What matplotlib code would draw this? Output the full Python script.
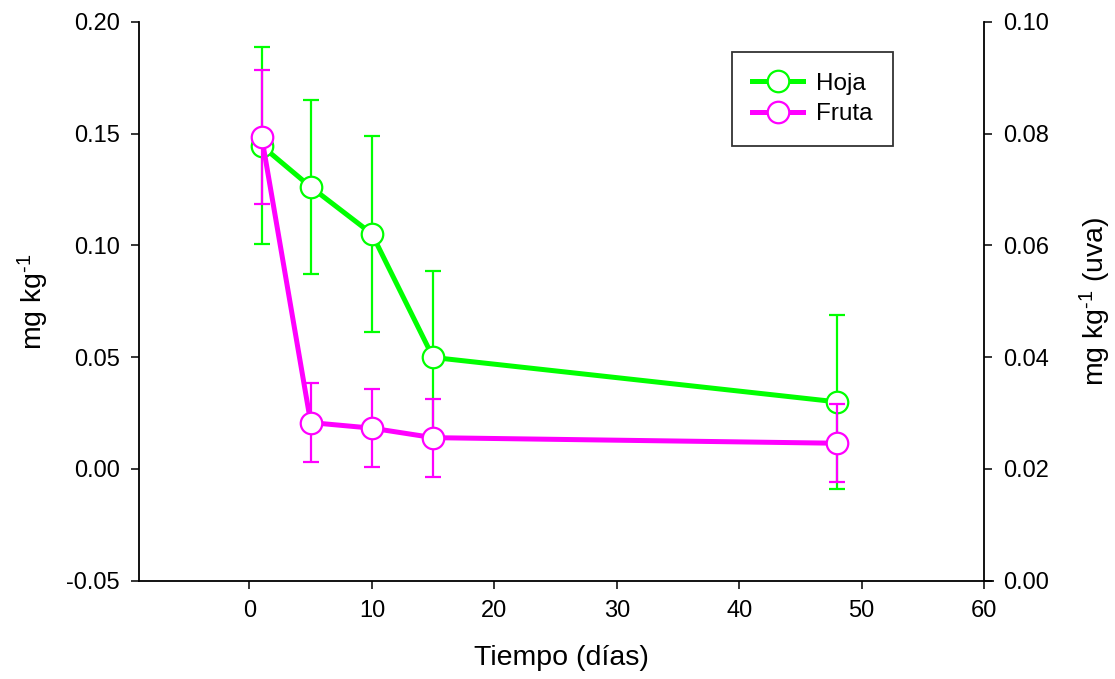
import matplotlib.pyplot as plt

plt.rcParams['font.family'] = ['Liberation Sans', 'DejaVu Sans']
plt.rcParams['mathtext.fontset'] = 'custom'
plt.rcParams['mathtext.rm'] = 'Liberation Sans'
plt.rcParams['mathtext.it'] = 'Liberation Sans:italic'

# sampling days and mean concentrations with their error bars
days = [1, 5, 10, 15, 48]
hoja = [0.1446, 0.1262, 0.1052, 0.0499, 0.0300]
hoja_err = [0.0440, 0.0390, 0.0440, 0.0387, 0.0388]
fruta = [0.0794, 0.0283, 0.0273, 0.0256, 0.0246]
fruta_err = [0.0120, 0.0070, 0.0070, 0.0070, 0.0070]

left_ticks = [-0.05, 0.00, 0.05, 0.10, 0.15, 0.20]
right_ticks = [0.00, 0.02, 0.04, 0.06, 0.08, 0.10]
x_ticks = [0, 10, 20, 30, 40, 50, 60]

green = '#00ff00'
magenta = '#ff00ff'

fig = plt.figure(figsize=(11.15, 6.79), dpi=100)
ax = fig.add_axes([0.1249, 0.1448, 0.7654, 0.8228])
ax2 = ax.twinx()

# leaf series on the left axis
ax.errorbar(days, hoja, yerr=hoja_err, fmt='none', ecolor=green,
            elinewidth=1.6, capsize=6, capthick=1.6, zorder=1)
l1, = ax.plot(days, hoja, '-o', color=green, lw=3.6, ms=15.5,
              mfc='white', mec=green, mew=1.6, zorder=2, label='Hoja')

# fruit series on the right axis
ax2.errorbar(days, fruta, yerr=fruta_err, fmt='none', ecolor=magenta,
             elinewidth=1.6, capsize=6, capthick=1.6, zorder=1)
l2, = ax2.plot(days, fruta, '-o', color=magenta, lw=3.6, ms=15.5,
               mfc='white', mec=magenta, mew=1.6, zorder=2, label='Fruta')

ax.set_xlim(-9, 60.7)
ax.set_ylim(-0.05, 0.20)
ax2.set_ylim(0.0, 0.10)
ax.set_xticks(x_ticks)
ax.set_yticks(left_ticks)
ax2.set_yticks(right_ticks)
ax.set_yticklabels([f'{t:.2f}' for t in left_ticks])
ax2.set_yticklabels([f'{t:.2f}' for t in right_ticks])

ax.spines['top'].set_visible(False)
ax.spines['right'].set_visible(False)
for s in ['top', 'left', 'bottom']:
    ax2.spines[s].set_visible(False)
ax2.spines['right'].set_position(('data', 60))
for sp in [ax.spines['left'], ax.spines['bottom'], ax2.spines['right']]:
    sp.set_linewidth(1.3)

ax.tick_params(direction='out', length=6, width=1.1, labelsize=17, pad=8)
ax2.tick_params(direction='out', length=6, width=1.1, labelsize=17, pad=8)

ax.set_xlabel('Tiempo (días)', fontsize=20.5, va='center')
ax.xaxis.set_label_coords(0.495, -0.1384)
ax.set_ylabel('mg kg$^{\\text{-1}}$', fontsize=20.5, va='center')
ax.yaxis.set_label_coords(-0.1246, 0.5)
ax2.set_ylabel('mg kg$^{\\text{-1}}$ (uva)', fontsize=20.5, va='center',
               rotation=90)
ax2.yaxis.set_label_coords(1.1198, 0.5)

leg = ax2.legend(handles=[l1, l2], loc='upper left',
                 bbox_to_anchor=(731.7 / 1115, 1 - 52.3 / 679),
                 bbox_transform=fig.transFigure, fontsize=17.5,
                 frameon=True, fancybox=False, shadow=False,
                 handlelength=2.1, handletextpad=0.5, borderpad=0.85,
                 labelspacing=0.35, borderaxespad=0, numpoints=1)
leg.get_frame().set_edgecolor('black')
leg.get_frame().set_linewidth(1.3)

fig.savefig('out.png', dpi=100)
